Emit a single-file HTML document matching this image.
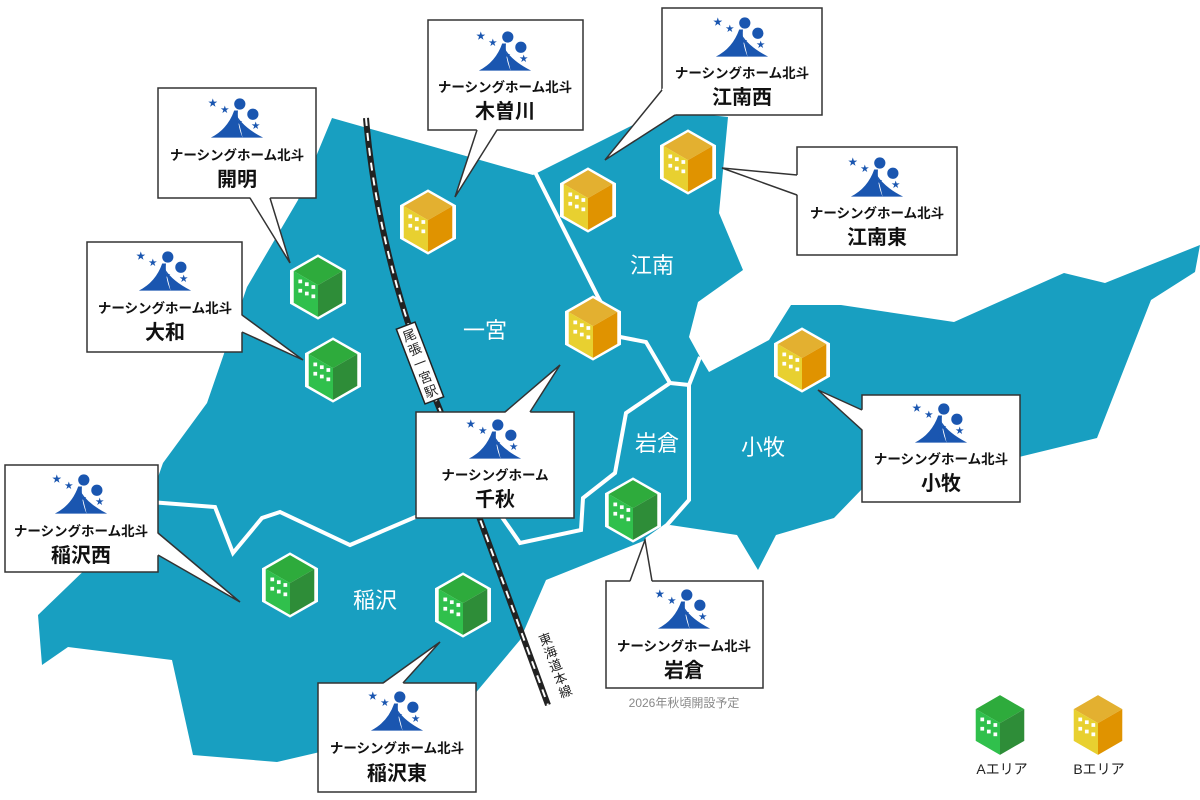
<!DOCTYPE html>
<html><head><meta charset="utf-8"><style>
html,body{margin:0;padding:0;background:#fff;}
svg{display:block;font-family:"Liberation Sans","Noto Sans CJK JP",sans-serif;}
</style></head><body>
<svg width="1200" height="800" viewBox="0 0 1200 800" xmlns="http://www.w3.org/2000/svg">
<defs>
<symbol id="logo" viewBox="0 0 60 44" overflow="visible">
 <path d="M2,43 Q20,34 27,14 L31,14 Q30,30 36,43 Z" fill="#1a56b0"/>
 <path d="M30,20 Q38,33 58,43 L36,43 Q33,30 30,20Z" fill="#1a56b0"/>
 <circle cx="33" cy="7" r="6" fill="#1a56b0"/>
 <circle cx="47" cy="18" r="6" fill="#1a56b0"/>
 <text x="4" y="9" font-size="10" fill="#1a56b0">★</text>
 <text x="17" y="16" font-size="9" fill="#1a56b0">★</text>
 <text x="32" y="29" font-size="8" fill="#1a56b0">★</text>
 <text x="29" y="38" font-size="8" fill="#1a56b0">★</text>
 <text x="50" y="33" font-size="9" fill="#1a56b0">★</text>
</symbol>
<symbol id="bg" viewBox="-30 -36 60 72" overflow="visible">
 <polygon points="0,-35 30,-18 30,18 0,35 -30,18 -30,-18" fill="#fff"/>
 <polygon points="0,-32 26,-17 0,-2 -26,-17" fill="#2eab3c"/>
 <polygon points="-26,-17 0,-2 0,32 -26,17" fill="#30c04c"/>
 <polygon points="0,-2 26,-17 26,17 0,32" fill="#2e8d38"/>
 <g fill="#fff"><rect x="-21" y="-8" width="4" height="4"/><rect x="-14" y="-5" width="4" height="4"/><rect x="-7" y="-2" width="4" height="4"/><rect x="-21" y="2" width="4" height="4"/><rect x="-14" y="5" width="4" height="4"/><rect x="-7" y="8" width="4" height="4"/></g>
</symbol>
<symbol id="by" viewBox="-30 -36 60 72" overflow="visible">
 <polygon points="0,-35 30,-18 30,18 0,35 -30,18 -30,-18" fill="#fff"/>
 <polygon points="0,-32 26,-17 0,-2 -26,-17" fill="#e3b030"/>
 <polygon points="-26,-17 0,-2 0,32 -26,17" fill="#e8d030"/>
 <polygon points="0,-2 26,-17 26,17 0,32" fill="#e09300"/>
 <g fill="#fff"><rect x="-21" y="-8" width="4" height="4"/><rect x="-14" y="-5" width="4" height="4"/><rect x="-7" y="-2" width="4" height="4"/><rect x="-21" y="2" width="4" height="4"/><rect x="-14" y="5" width="4" height="4"/><rect x="-7" y="8" width="4" height="4"/></g>
</symbol>
</defs>

<polygon fill="#189fc1" points="332,118 533,175 663,110 728,117 719,213 743,270 698,302 689,337 700,357 709,372 769,340 791,305 841,305 954,322 1064,273 1105,283 1200,245 1195,272 1151,300 1097,438 1019,457 863,488 834,518 776,535 758,570 737,535 670,525 646,540 546,580 520,640 447,727 320,752 277,762 193,755 172,660 68,647 42,665 38,615 95,560 150,500 163,463 207,403 247,287 298,200"/>
<g fill="none" stroke="#fff" stroke-width="4" stroke-linejoin="miter">
 <polyline points="535,172 598,297 620,337 646,342 670,383 689,385 700,357"/>
 <polyline points="689,385 689,500 667,525 646,540"/>
 <polyline points="670,383 626,413 615,473 583,498 581,530 520,543 490,500"/>
 <polyline points="150,502 215,507 233,553 262,518 280,512 350,545 420,515 490,500"/>
</g>
<path d="M366,118 Q378,260 440,410 L548,705" fill="none" stroke="#222" stroke-width="6"/>
<path d="M366,118 Q378,260 440,410 L548,705" fill="none" stroke="#fff" stroke-width="2" stroke-dasharray="8 7"/>
<g transform="translate(420,363) rotate(-21)">
 <rect x="-10" y="-40" width="20" height="80" fill="#fff" stroke="#222" stroke-width="1.5"/>
 <g font-size="13" text-anchor="middle" fill="#222"><text x="0" y="-25">尾</text><text x="0" y="-10">張</text><text x="0" y="5">一</text><text x="0" y="20">宮</text><text x="0" y="35">駅</text></g>
</g>
<g transform="translate(556,667) rotate(-21)" font-size="13" text-anchor="middle" fill="#222">
 <text x="0" y="-25">東</text><text x="0" y="-11">海</text><text x="0" y="3">道</text><text x="0" y="17">本</text><text x="0" y="31">線</text>
</g>
<g fill="#fff" font-size="22" text-anchor="middle">
 <text x="485" y="338">一宮</text><text x="652" y="273">江南</text><text x="657" y="451">岩倉</text><text x="763" y="455">小牧</text><text x="375" y="608">稲沢</text>
</g>
<use href="#bg" x="290" y="252" width="56" height="70"/>
<use href="#bg" x="305" y="335" width="56" height="70"/>
<use href="#bg" x="262" y="550" width="56" height="70"/>
<use href="#bg" x="435" y="570" width="56" height="70"/>
<use href="#bg" x="605" y="475" width="56" height="70"/>
<use href="#by" x="400" y="187" width="56" height="70"/>
<use href="#by" x="560" y="165" width="56" height="70"/>
<use href="#by" x="660" y="127" width="56" height="70"/>
<use href="#by" x="565" y="293" width="56" height="70"/>
<use href="#by" x="774" y="325" width="56" height="70"/>
<use href="#bg" x="972" y="690" width="56" height="70"/>
<use href="#by" x="1070" y="690" width="56" height="70"/>
<g font-size="14" text-anchor="middle" fill="#222"><text x="1002" y="774">Aエリア</text><text x="1099" y="774">Bエリア</text></g>

<g stroke="#333" stroke-width="1.5" fill="#fff">
 <rect x="428" y="20" width="155" height="110"/><polygon points="477,129 497,129 455,197" stroke="none"/><polyline points="477,130 455,197 497,130" fill="none"/>
 <rect x="662" y="8" width="160" height="107"/><polygon points="663,88 663,114 676,114 605,160" stroke="none"/><polyline points="662,90 605,160 675,115" fill="none"/>
 <rect x="797" y="147" width="160" height="108"/><polygon points="798,175 798,195 722,168" stroke="none"/><polyline points="797,175 722,168 797,195" fill="none"/>
 <rect x="158" y="88" width="158" height="110"/><polygon points="250,197 270,197 290,263" stroke="none"/><polyline points="250,198 290,263 270,198" fill="none"/>
 <rect x="87" y="242" width="155" height="110"/><polygon points="241,315 241,332 303,360" stroke="none"/><polyline points="242,315 303,360 242,332" fill="none"/>
 <rect x="416" y="412" width="158" height="106"/><polygon points="505,413 530,413 560,365" stroke="none"/><polyline points="505,412 560,365 530,412" fill="none"/>
 <rect x="862" y="395" width="158" height="107"/><polygon points="863,410 863,430 818,390" stroke="none"/><polyline points="862,410 818,390 862,430" fill="none"/>
 <rect x="5" y="465" width="153" height="107"/><polygon points="157,533 157,555 240,602" stroke="none"/><polyline points="158,533 240,602 158,555" fill="none"/>
 <rect x="606" y="581" width="157" height="107"/><polygon points="630,582 652,582 645,540" stroke="none"/><polyline points="630,581 645,540 652,581" fill="none"/>
 <rect x="318" y="683" width="158" height="109"/><polygon points="383,684 403,684 440,642" stroke="none"/><polyline points="383,683 440,642 403,683" fill="none"/>
</g>
<g text-anchor="middle" fill="#111" font-weight="bold">
 <use href="#logo" x="477" y="30" width="56" height="42"/>
 <text x="505" y="92" font-size="13.5">ナーシングホーム北斗</text><text x="505" y="118" font-size="20">木曽川</text>
 <use href="#logo" x="714" y="16" width="56" height="42"/>
 <text x="742" y="78" font-size="13.5">ナーシングホーム北斗</text><text x="742" y="104" font-size="20">江南西</text>
 <use href="#logo" x="849" y="156" width="56" height="42"/>
 <text x="877" y="218" font-size="13.5">ナーシングホーム北斗</text><text x="877" y="244" font-size="20">江南東</text>
 <use href="#logo" x="209" y="97" width="56" height="42"/>
 <text x="237" y="160" font-size="13.5">ナーシングホーム北斗</text><text x="237" y="186" font-size="20">開明</text>
 <use href="#logo" x="137" y="250" width="56" height="42"/>
 <text x="165" y="313" font-size="13.5">ナーシングホーム北斗</text><text x="165" y="339" font-size="20">大和</text>
 <use href="#logo" x="467" y="418" width="56" height="42"/>
 <text x="495" y="480" font-size="13.5">ナーシングホーム</text><text x="495" y="506" font-size="20">千秋</text>
 <use href="#logo" x="913" y="402" width="56" height="42"/>
 <text x="941" y="464" font-size="13.5">ナーシングホーム北斗</text><text x="941" y="490" font-size="20">小牧</text>
 <use href="#logo" x="53" y="473" width="56" height="42"/>
 <text x="81" y="536" font-size="13.5">ナーシングホーム北斗</text><text x="81" y="562" font-size="20">稲沢西</text>
 <use href="#logo" x="656" y="588" width="56" height="42"/>
 <text x="684" y="651" font-size="13.5">ナーシングホーム北斗</text><text x="684" y="677" font-size="20">岩倉</text>
 <use href="#logo" x="369" y="690" width="56" height="42"/>
 <text x="397" y="753" font-size="13.5">ナーシングホーム北斗</text><text x="397" y="780" font-size="20">稲沢東</text>
</g>
<text x="684" y="707" font-size="12" fill="#888" text-anchor="middle">2026年秋頃開設予定</text>
</svg>
</body></html>
